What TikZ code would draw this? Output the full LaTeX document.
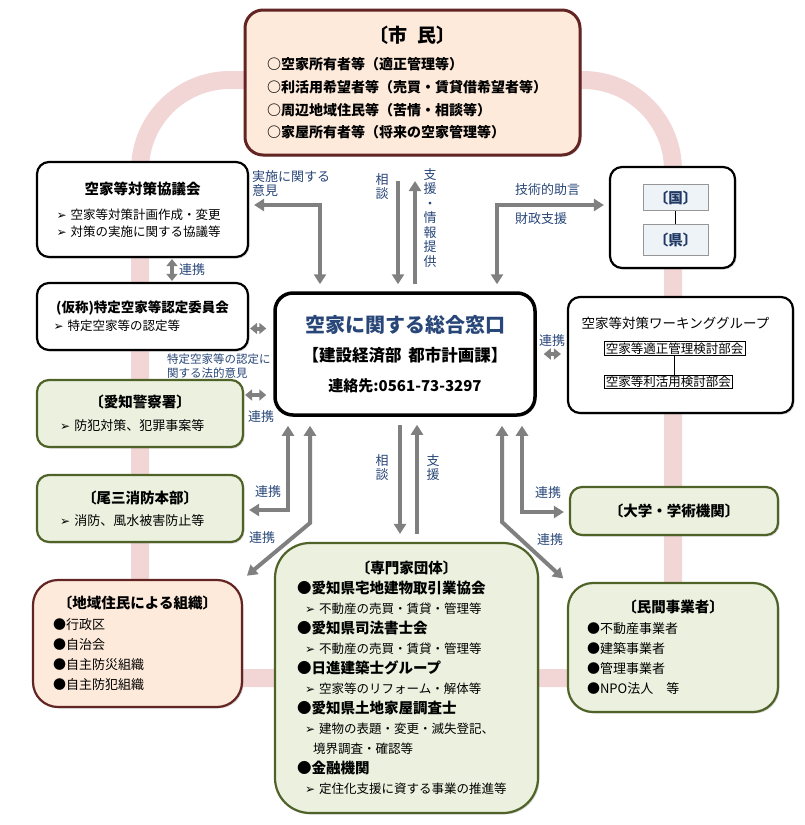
\documentclass[tikz,border=0pt]{standalone}
\usepackage{fontspec}
\setmainfont{Noto Sans CJK JP}
\newfontfamily\symfont{DejaVu Sans}
\usetikzlibrary{arrows.meta, positioning, shadows}

\definecolor{ringpink}{RGB}{242,214,214}
\definecolor{peachfill}{RGB}{253,234,218}
\definecolor{peachline}{RGB}{99,37,35}
\definecolor{greenfill}{RGB}{235,241,222}
\definecolor{greenline}{RGB}{79,98,40}
\definecolor{linkgray}{RGB}{128,128,128}
\definecolor{labelblue}{RGB}{40,70,120}
\definecolor{subfill}{RGB}{238,243,248}
\definecolor{subline}{RGB}{150,150,150}
\definecolor{navy}{RGB}{31,56,100}

\newcommand{\arr}{{\symfont\fontsize{12}{12}\selectfont ➢}~}
\newcommand{\ttl}[2][14.5]{\makebox[\linewidth]{\bfseries\fontsize{#1}{18}\selectfont #2}\\}

\tikzset{
    box/.style={ % frame shared by every box
        rounded corners=12pt,
        line width=2.2pt,
        inner sep=0pt,
        align=left,
        font=\fontsize{13}{20}\selectfont,
        drop shadow={shadow xshift=1.5pt, shadow yshift=-1.5pt, opacity=.3}
    },
    whitebox/.style={box, draw=black, fill=white},
    greenbox/.style={box, draw=greenline, fill=greenfill},
    peachbox/.style={box, draw=peachline, fill=peachfill},
    subbox/.style={ % the two small boxes for 国 and 県
        draw=subline, fill=subfill, line width=.8pt, inner sep=0pt,
        text=navy, font=\bfseries\fontsize{14.5}{16}\selectfont
    },
    bukai/.style={draw=black, fill=white, line width=.6pt, inner xsep=1.5pt, inner ysep=1pt,
        font=\fontsize{12.5}{14}\selectfont},
    link/.style={ % grey connector, head at the end
        draw=linkgray, line width=4pt,
        -{Triangle[width=12pt,length=10pt]},
        shorten >=5pt, shorten <=5pt
    },
    twoway/.style={link, {Triangle[width=12pt,length=10pt]}-{Triangle[width=12pt,length=10pt]}},
    stub/.style={link, {Triangle[width=11pt,length=7pt]}-{Triangle[width=11pt,length=7pt]},
        shorten >=1pt, shorten <=1pt},
    lbl/.style={text=labelblue, font=\fontsize{13}{14}\selectfont, inner sep=0pt, align=center},
    ring/.style={draw=ringpink, line width=18pt, rounded corners=90pt}
}

\begin{document}
\begin{tikzpicture}[x=1pt, y=-1pt]
\useasboundingbox (0,0) rectangle (805,825);

% pink loop behind everything
\draw[ring] (140,80) rectangle (673,678);

% boxes
\node[peachbox, line width=3pt, rounded corners=18pt, minimum width=335, minimum height=145,
      text width=291, font=\bfseries\fontsize{14}{22.7}\selectfont] (shimin) at (412.5,82.5)
  {\ttl[19]{〔市\hspace{.5em}民〕}[5pt]
   ○空家所有者等（適正管理等）\\
   ○利活用希望者等（売買・賃貸借希望者等）\\
   ○周辺地域住民等（苦情・相談等）\\
   ○家屋所有者等（将来の空家管理等）};
\node[whitebox, minimum width=211, minimum height=95, text width=172,
      font=\fontsize{12.5}{16.5}\selectfont] (kyogikai) at (142.5,209.5)
  {\ttl{空家等対策協議会}[9pt]
   \arr 空家等対策計画作成・変更\\
   \arr 対策の実施に関する協議等};
\node[whitebox, minimum width=211, minimum height=67, text width=178,
      font=\fontsize{12.5}{16.5}\selectfont] (nintei) at (142.5,316.5)
  {\ttl[13.5]{(仮称)特定空家等認定委員会}[1.5pt]
   \arr 特定空家等の認定等};
\node[whitebox, line width=3.5pt, rounded corners=18pt, minimum width=260, minimum height=122,
      align=center, font=\bfseries\fontsize{15}{29.5}\selectfont] (madoguchi) at (405,354)
  {{\color{labelblue}\fontsize{20}{24}\selectfont 空家に関する総合窓口}\\
   {\fontsize{16.5}{20}\selectfont 【建設経済部\hspace{.4em}都市計画課】}\\
   {\fontsize{15}{18}\selectfont 連絡先:0561-73-3297}};
\node[whitebox, minimum width=125, minimum height=101] (kokken) at (672.5,217.5) {};
\node[subbox, minimum width=65, minimum height=26] (kuni) at (675.5,197.5) {〔国〕};
\node[subbox, minimum width=65, minimum height=31, below=13pt of kuni] (ken) {〔県〕};
\node[whitebox, minimum width=225, minimum height=116] (wg) at (680.5,355) {};
\node[font=\fontsize{13.5}{16}\selectfont, inner sep=0pt] (wgtitle) at (675.5,323)
  {空家等対策ワーキンググループ};
\node[bukai, anchor=west] (bukai1) at (604,348.5) {空家等適正管理検討部会};
\node[bukai, below=19pt of bukai1.south west, anchor=north west] (bukai2) {空家等利活用検討部会};
\node[greenbox, minimum width=206, minimum height=67, text width=160] (keisatsu) at (140,413.5)
  {\ttl{〔愛知警察署〕}[3pt]
   \arr 防犯対策、犯罪事案等};
\node[greenbox, minimum width=206, minimum height=67, text width=160] (shobo) at (140,508.5)
  {\ttl{〔尾三消防本部〕}[2pt]
   \arr 消防、風水被害防止等};
\node[peachbox, rounded corners=25pt, minimum width=209, minimum height=127, text width=169] (chiiki) at (137.5,643.5)
  {\ttl{〔地域住民による組織〕}[1pt]
   ●行政区\\
   ●自治会\\
   ●自主防災組織\\
   ●自主防犯組織};
\node[greenbox, rounded corners=35pt, minimum width=263, minimum height=270, text width=219,
      font=\fontsize{12.5}{20}\selectfont] (senmon) at (406.5,678)
  {\ttl{〔専門家団体〕}
   {\bfseries\fontsize{14.5}{20}\selectfont ●愛知県宅地建物取引業協会}\\
   \hspace*{8pt}\arr 不動産の売買・賃貸・管理等\\
   {\bfseries\fontsize{14.5}{20}\selectfont ●愛知県司法書士会}\\
   \hspace*{8pt}\arr 不動産の売買・賃貸・管理等\\
   {\bfseries\fontsize{14.5}{20}\selectfont ●日進建築士グループ}\\
   \hspace*{8pt}\arr 空家等のリフォーム・解体等\\
   {\bfseries\fontsize{14.5}{20}\selectfont ●愛知県土地家屋調査士}\\
   \hspace*{8pt}\arr 建物の表題・変更・滅失登記、\\
   \hspace*{16pt}境界調査・確認等\\
   {\bfseries\fontsize{14.5}{20}\selectfont ●金融機関}\\
   \hspace*{8pt}\arr 定住化支援に資する事業の推進等};
\node[greenbox, minimum width=208, minimum height=48, align=center,
      font=\bfseries\fontsize{14.5}{18}\selectfont] (daigaku) at (674,511) {〔大学・学術機関〕};
\node[greenbox, rounded corners=25pt, minimum width=210, minimum height=129, text width=172] (minkan) at (673,647.5)
  {\ttl{〔民間事業者〕}[1pt]
   ●不動産事業者\\
   ●建築事業者\\
   ●管理事業者\\
   ●NPO法人　等};

\draw[line width=.8pt] (kuni) -- (ken);
\draw[line width=.8pt] (bukai1.south) -- (bukai1.south |- bukai2.north);

% bend points of the grey connectors
\coordinate (jk) at (320,205);
\coordinate (gj) at (497,205);
\coordinate (up1) at (398,181);
\coordinate (up2) at (415,181);
\coordinate (rk) at (172,270);
\coordinate (b1) at (288,510);
\coordinate (b2) at (310,523);
\coordinate (b3) at (502,522);
\coordinate (b4) at (522,512);
\coordinate (dn1) at (400,480);
\coordinate (dn2) at (417,480);

\draw[twoway, shorten <=7pt] (madoguchi.north -| jk) -- (jk) -- (kyogikai.east |- jk);
\draw[link, shorten <=0pt, shorten >=7pt] (up1) -- (up1 |- madoguchi.north);
\draw[link, shorten <=7pt, shorten >=0pt] (up2 |- madoguchi.north) -- (up2);
\draw[twoway, shorten <=7pt] (madoguchi.north -| gj) -- (gj) -- (kokken.west |- gj);
\draw[stub] (kyogikai.south -| rk) -- (nintei.north -| rk);
\draw[stub, shorten >=7pt] ([yshift=-12]nintei.east) -- ([yshift=-12]nintei.east -| madoguchi.west);
\draw[stub, shorten >=7pt] ([yshift=18.5]keisatsu.east) -- ([yshift=18.5]keisatsu.east -| madoguchi.west);
\draw[stub, shorten <=7pt, shorten >=6pt] (madoguchi.east) -- (madoguchi.east -| wg.west);
\draw[twoway, shorten <=9pt] (madoguchi.south -| b1) -- (b1) -- (shobo.east |- b1);
\draw[twoway, shorten <=9pt] (madoguchi.south -| b2) -- (b2) -- (chiiki.north east);
\draw[link, shorten <=8pt, shorten >=8pt] (madoguchi.south -| dn1) -- (senmon.north -| dn1);
\draw[link, shorten <=8pt, shorten >=8pt] (senmon.north -| dn2) -- (madoguchi.south -| dn2);
\draw[twoway, shorten <=9pt] (madoguchi.south -| b3) -- (b3) -- (minkan.north west);
\draw[twoway, shorten <=9pt] (madoguchi.south -| b4) -- (b4) -- (daigaku.west |- b4);

% connector labels
\node[lbl, align=left, anchor=west] (ljisshi) at (252,184) {実施に関する\\意見};
\node[lbl] (lsoudan1) at (382,187) {相\\談};
\node[lbl, font=\fontsize{13}{14.5}\selectfont] (lshien1) at (430,218) {支\\援\\・\\情\\報\\提\\供};
\node[lbl, anchor=west] (lgijutsu) at (515,190) {技術的助言};
\node[lbl, anchor=west] (lzaisei) at (515,219) {財政支援};
\node[lbl, anchor=west] (lrenkei1) at (179,270) {連携};
\node[lbl, align=left, anchor=west, font=\fontsize{11.5}{14}\selectfont] (lhoteki) at (167,366)
  {特定空家等の認定に\\関する法的意見};
\node[lbl] (lrenkei2) at (261,417) {連携};
\node[lbl] (lrenkei3) at (552,341) {連携};
\node[lbl] (lrenkei4) at (268,492) {連携};
\node[lbl] (lrenkei5) at (262,538) {連携};
\node[lbl] (lsoudan2) at (382,468) {相\\談};
\node[lbl] (lshien2) at (433,468) {支\\援};
\node[lbl] (lrenkei6) at (548,493) {連携};
\node[lbl] (lrenkei7) at (550,540) {連携};
\end{tikzpicture}
\end{document}
